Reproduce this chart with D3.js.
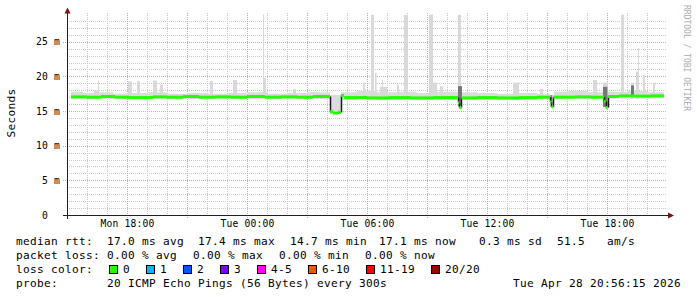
<!DOCTYPE html>
<html>
<head>
<meta charset="utf-8">
<script src="https://cdn.jsdelivr.net/npm/d3@7"></script>
<style>
body { margin: 0; background: #fff; }
svg text { font-family: "DejaVu Sans Mono", monospace; white-space: pre; fill: #000; }
</style>
</head>
<body>
<script>
// time is in hours after Mon 15:00
var timeTickHours = [3, 9, 15, 21, 27];
var timeTickLabels = ["Mon 18:00", "Tue 00:00", "Tue 06:00", "Tue 12:00", "Tue 18:00"];
var yTickValues = [0, 5, 10, 15, 20, 25];
var yTickUnits = [" ", "m", "m", "m", "m", "m"];

// median rtt (ms), each value holds until the next hour mark
var medianHours = [0.2, 1.0, 1.7, 2.4, 3.1, 4.3, 5.0, 5.8, 6.6, 7.4, 8.2, 9.0, 9.9, 10.7, 11.5, 12.3,
  13.15, 13.3, 13.55, 13.7, 13.85, 15.0, 16.1, 17.2, 18.3, 19.55, 19.62, 19.72, 20.5, 21.5, 22.6, 23.5,
  24.15, 24.22, 24.32, 25.4, 26.2, 26.85, 26.93, 27.03, 27.6, 28.4, 29.2, 29.85];
var medianMs = [17.05, 17.0, 17.1, 17.0, 16.95, 17.05, 17.0, 17.1, 17.0, 17.05, 17.0, 17.1, 17.0, 17.05, 17.0, 17.1,
  14.9, 14.7, 14.8, 17.25, 16.95, 16.9, 16.95, 16.9, 16.95, 16.2, 15.5, 16.9, 16.95, 16.9, 16.95, 17.0,
  16.3, 15.6, 17.0, 17.05, 17.0, 16.4, 15.5, 17.1, 17.2, 17.15, 17.2, 17.1];

// smoke band [hour, low ms, high ms]
var smokeBand = [
  [0.2, 16.7, 17.8], [0.8, 16.7, 17.6], [1.5, 16.75, 17.7], [2.3, 16.7, 17.5], [3.0, 16.7, 17.6],
  [4.0, 16.7, 17.7], [5.0, 16.7, 17.5], [6.0, 16.7, 17.6], [7.0, 16.7, 17.5], [8.0, 16.75, 17.6],
  [9.0, 16.7, 17.7], [10.0, 16.7, 17.5], [11.0, 16.7, 17.6], [12.0, 16.7, 17.7], [13.15, 14.6, 17.3],
  [13.7, 16.6, 17.7], [14.5, 16.7, 17.9], [15.5, 16.6, 17.7], [16.5, 16.6, 17.8], [17.5, 16.6, 17.6],
  [18.5, 16.6, 17.8], [19.55, 15.5, 18.0], [19.75, 16.6, 17.7], [20.5, 16.6, 17.6], [21.5, 16.6, 17.5],
  [22.5, 16.6, 17.6], [23.5, 16.7, 17.5], [24.15, 15.6, 17.3], [24.35, 16.7, 17.8], [25.0, 16.7, 17.9],
  [26.0, 16.7, 17.7], [26.8, 15.5, 18.0], [27.05, 16.8, 17.8], [28.0, 16.8, 17.9], [29.0, 16.8, 17.7],
  [29.85, 16.8, 17.7]
];

// smoke spikes [hour, duration h, top ms]
var smokeSpikes = [
  [1.35, 0.25, 18.0], [1.55, 0.06, 19.4], [3.05, 0.2, 19.3], [3.5, 0.15, 19.3], [4.3, 0.2, 19.4],
  [4.65, 0.15, 18.8], [7.15, 0.15, 19.3], [8.3, 0.2, 19.5], [9.8, 0.15, 19.8], [9.8, 0.05, 28.9],
  [11.3, 0.15, 18.2], [14.8, 0.1, 19.1], [15.2, 0.15, 28.9], [15.4, 0.08, 20.5], [15.65, 0.35, 18.5],
  [15.75, 0.05, 19.5], [16.5, 0.1, 18.8], [16.85, 0.2, 28.9], [18.1, 0.2, 28.9], [18.3, 0.2, 19.1],
  [18.65, 0.15, 18.6], [19.55, 0.15, 28.9], [22.3, 0.3, 19.1], [23.65, 0.15, 18.2], [26.3, 0.2, 19.5],
  [26.8, 0.25, 19.1], [27.7, 0.15, 28.9], [28.2, 0.15, 19.1], [28.45, 0.15, 20.7], [28.55, 0.05, 24.1],
  [28.8, 0.1, 20.2], [29.3, 0.1, 19.1]
];

// dense (dark) smoke [hour, duration h, low ms, high ms]
var darkSmoke = [
  [19.55, 0.2, 15.8, 18.6], [24.18, 0.08, 16.0, 17.3], [26.8, 0.22, 15.6, 18.5], [28.2, 0.15, 17.0, 18.7]
];

var rttStats = [["median rtt:", 16], ["17.0 ms avg", 107], ["17.4 ms max", 198], ["14.7 ms min", 290],
  ["17.1 ms now", 379], ["0.3 ms sd", 479], ["51.5", 557], ["am/s", 607]];
var lossStats = [["packet loss:", 16], ["0.00 % avg", 107], ["0.00 % max", 193], ["0.00 % min", 279],
  ["0.00 % now", 365]];
var lossLabels = ["0", "1", "2", "3", "4-5", "6-10", "11-19", "20/20"];
var lossColors = ["#26ff00", "#00b8ff", "#0059ff", "#7e00ff", "#ff00ff", "#ff5500", "#ff0000", "#a10000"];
var probeText = "20 ICMP Echo Pings (56 Bytes) every 300s";
var stampText = "Tue Apr 28 20:56:15 2026";

var width = 697, height = 297;
var svg = d3.select("body").append("svg")
    .attr("width", width)
    .attr("height", height);

var x = d3.scaleLinear().domain([0, 30]).range([67, 667]);
var y = d3.scaleLinear().domain([0, 29.15]).range([215, 13]);

function px(v) { return Math.round(v) + 0.5; }

// grid
var grid = svg.append("g");
grid.selectAll(".hmin").data(d3.range(1, 29).filter(function (d) { return d % 5; }))
  .enter().append("line")
  .attr("x1", 67).attr("x2", 667)
  .attr("y1", function (d) { return px(y(d)); }).attr("y2", function (d) { return px(y(d)); })
  .attr("stroke", "#c8c8c8").attr("stroke-dasharray", "1,1");
grid.selectAll(".vmin").data(d3.range(1, 30).filter(function (d) { return d % 3; }))
  .enter().append("line")
  .attr("x1", function (d) { return px(x(d)); }).attr("x2", function (d) { return px(x(d)); })
  .attr("y1", 13).attr("y2", 215)
  .attr("stroke", "#c8c8c8").attr("stroke-dasharray", "1,1");
grid.selectAll(".hmaj").data([5, 10, 15, 20, 25])
  .enter().append("line")
  .attr("x1", 63).attr("x2", 667)
  .attr("y1", function (d) { return px(y(d)); }).attr("y2", function (d) { return px(y(d)); })
  .attr("stroke", "#dba3a3").attr("stroke-dasharray", "1,1");
grid.selectAll(".vmaj").data(d3.range(3, 30, 3))
  .enter().append("line")
  .attr("x1", function (d) { return px(x(d)); }).attr("x2", function (d) { return px(x(d)); })
  .attr("y1", 13).attr("y2", 218)
  .attr("stroke", "#dba3a3").attr("stroke-dasharray", "1,1");

// smoke
var area = d3.area()
    .x(function (d) { return x(d[0]); })
    .y0(function (d) { return y(d[1]); })
    .y1(function (d) { return y(d[2]); })
    .curve(d3.curveStepAfter);
svg.append("path").datum(smokeBand).attr("d", area).attr("fill", "#dcdcdc");

svg.selectAll(".spike").data(smokeSpikes).enter().append("rect")
  .attr("x", function (d) { return x(d[0]); })
  .attr("width", function (d) { return Math.max(1, x(d[0] + d[1]) - x(d[0])); })
  .attr("y", function (d) { return y(d[2]); })
  .attr("height", function (d) { return y(16.8) - y(d[2]); })
  .attr("fill", "#d9d9d9");

svg.selectAll(".dark").data(darkSmoke).enter().append("rect")
  .attr("x", function (d) { return x(d[0]); })
  .attr("width", function (d) { return Math.max(1, x(d[0] + d[1]) - x(d[0])); })
  .attr("y", function (d) { return y(d[3]); })
  .attr("height", function (d) { return y(d[2]) - y(d[3]); })
  .attr("fill", "#777");

// median line: green steps, dark connectors on big jumps
var segs = [];
for (var i = 0; i < medianHours.length - 1; i++) {
  segs.push({ t0: medianHours[i], t1: medianHours[i + 1], v: medianMs[i], next: medianMs[i + 1] });
}
svg.selectAll(".jump").data(segs.filter(function (s) { return Math.abs(s.next - s.v) > 0.4; }))
  .enter().append("line")
  .attr("x1", function (s) { return px(x(s.t1)); }).attr("x2", function (s) { return px(x(s.t1)); })
  .attr("y1", function (s) { return y(s.v); }).attr("y2", function (s) { return y(s.next); })
  .attr("stroke", "#1a1a1a").attr("stroke-width", 1.5);
svg.selectAll(".med").data(segs).enter().append("line")
  .attr("x1", function (s) { return x(s.t0); }).attr("x2", function (s) { return x(s.t1); })
  .attr("y1", function (s) { return y(s.v); }).attr("y2", function (s) { return y(s.v); })
  .attr("stroke", lossColors[0]).attr("stroke-width", 3);

// axes
var xAxis = svg.append("g").attr("transform", "translate(0,215)")
  .call(d3.axisBottom(x).tickValues(timeTickHours)
    .tickFormat(function (d, i) { return timeTickLabels[i]; })
    .tickSize(0).tickPadding(5));
xAxis.select(".domain").remove();
xAxis.selectAll("text").style("font-size", "9.7px").style("letter-spacing", "0.15px")
  .style("font-family", "DejaVu Sans Mono");

var yAxis = svg.append("g").attr("transform", "translate(67,0)")
  .call(d3.axisLeft(y).tickValues(yTickValues)
    .tickFormat(function (d, i) { return d + " " + yTickUnits[i]; })
    .tickSize(0).tickPadding(7));
yAxis.select(".domain").remove();
yAxis.selectAll("text").style("font-size", "9.7px").style("letter-spacing", "0.15px")
  .style("font-family", "DejaVu Sans Mono");

svg.append("line").attr("x1", 67.5).attr("x2", 67.5).attr("y1", 13).attr("y2", 219)
  .attr("stroke", "#202020");
svg.append("line").attr("x1", 63).attr("x2", 668).attr("y1", 215.5).attr("y2", 215.5)
  .attr("stroke", "#202020");
svg.append("path").attr("d", "M64.5,13.5L67.5,7.5L70.5,13.5Z").attr("fill", "#7f1010");
svg.append("path").attr("d", "M668,212.5L674,215.5L668,218.5Z").attr("fill", "#7f1010");

svg.append("text")
  .attr("transform", "translate(15,113) rotate(-90)")
  .attr("text-anchor", "middle")
  .style("font-size", "11.1px").style("letter-spacing", "0.32px")
  .text("Seconds");

svg.append("text")
  .attr("transform", "translate(684,5) rotate(90)")
  .style("font-size", "8px").style("fill", "#ababab")
  .text("RRDTOOL / TOBI OETIKER");

// legend
var legend = svg.append("g").style("font-size", "11.1px").style("letter-spacing", "0.32px");
legend.selectAll(".rtt").data(rttStats).enter().append("text")
  .attr("x", function (d) { return d[1]; }).attr("y", 245).text(function (d) { return d[0]; });
legend.selectAll(".loss").data(lossStats).enter().append("text")
  .attr("x", function (d) { return d[1]; }).attr("y", 259).text(function (d) { return d[0]; });
legend.append("text").attr("x", 16).attr("y", 273).text("loss color:");

var lx = 109;
lossLabels.forEach(function (lab, i) {
  legend.append("rect").attr("x", lx + 0.5).attr("y", 265.5).attr("width", 8).attr("height", 8)
    .attr("fill", lossColors[i]).attr("stroke", "#000");
  legend.append("text").attr("x", lx + 14).attr("y", 273).text(lab);
  lx = lx + 14 + lab.length * 7 + 16;
});

legend.append("text").attr("x", 16).attr("y", 287).text("probe:");
legend.append("text").attr("x", 107).attr("y", 287).text(probeText);
legend.append("text").attr("x", 681).attr("y", 287).attr("text-anchor", "end").text(stampText);
</script>
</body>
</html>
